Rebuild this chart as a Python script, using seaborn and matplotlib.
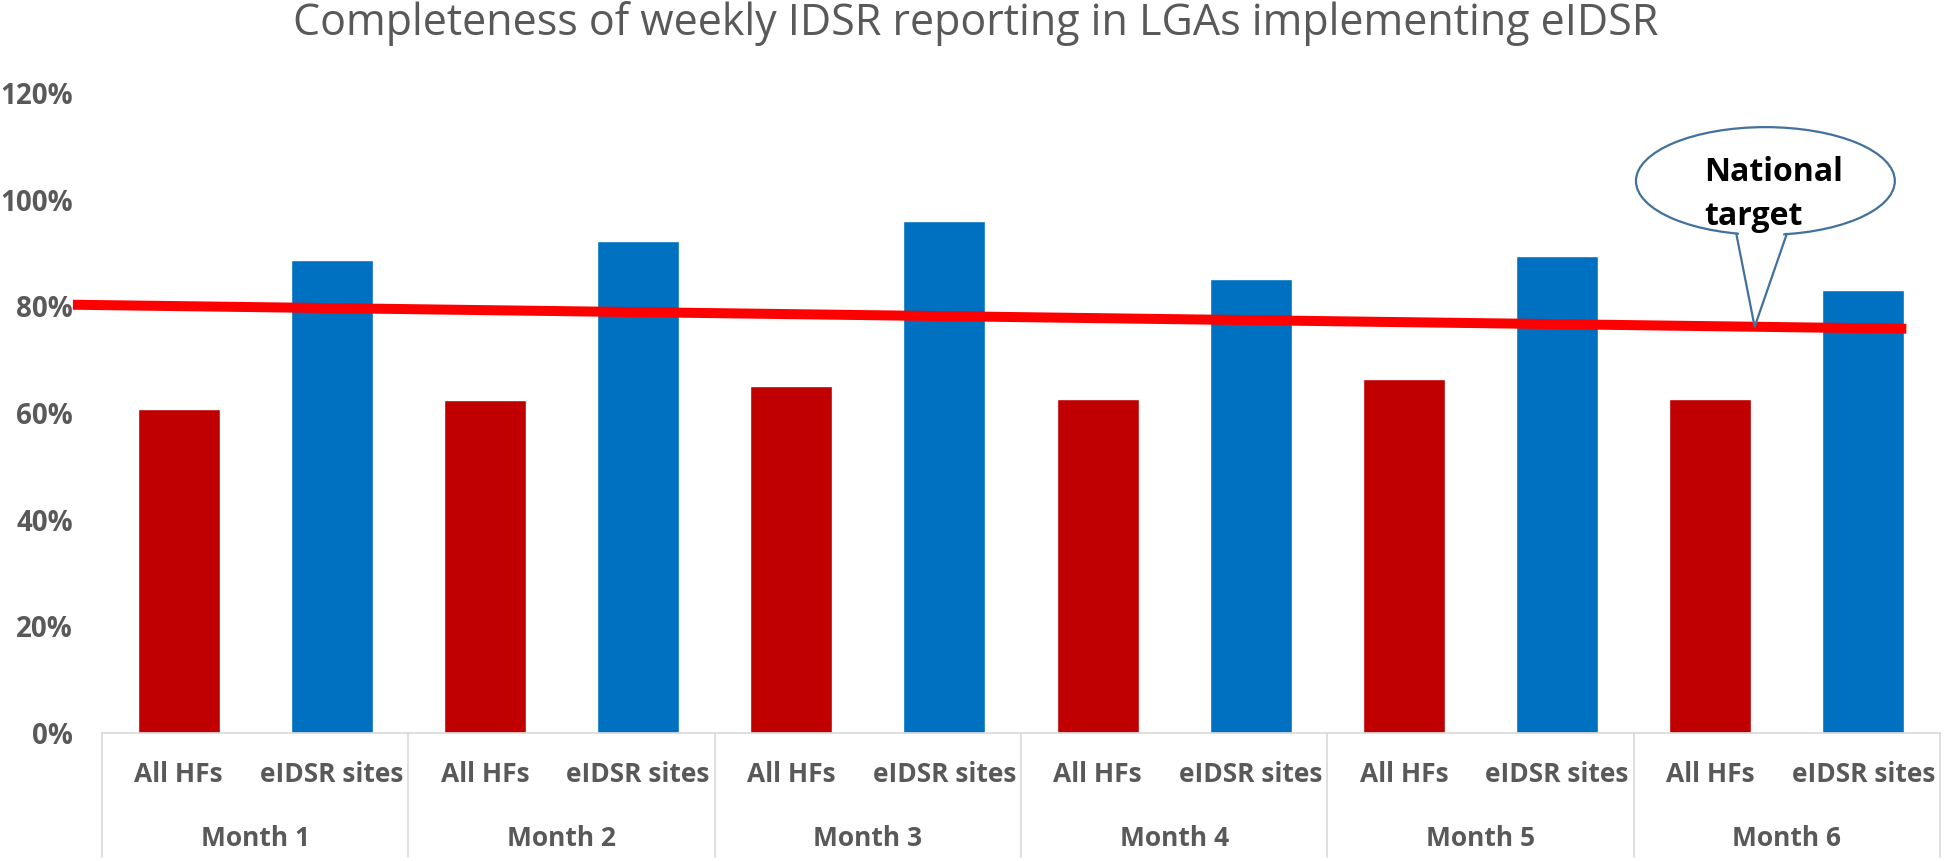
import numpy as np
import pandas as pd
import seaborn as sns
import matplotlib.pyplot as plt
from matplotlib.patches import Ellipse, Polygon

# data
months = ["Month 1", "Month 2", "Month 3", "Month 4", "Month 5", "Month 6"]
series = ["All HFs", "eIDSR sites"]
all_hfs = [60.7, 62.4, 65.0, 62.7, 66.4, 62.6]
eidsr_sites = [88.6, 92.3, 96.0, 85.1, 89.4, 83.1]
target_start = 80.3   # national target line, left end
target_end = 75.8     # right end
yticks = [0, 20, 40, 60, 80, 100, 120]

sns.set_theme(style="white")
plt.rcParams["font.family"] = ["Open Sans", "DejaVu Sans"]

rows = []
for m, a, e in zip(months, all_hfs, eidsr_sites):
    rows.append({"slot": m + "|" + series[0], "series": series[0], "value": a})
    rows.append({"slot": m + "|" + series[1], "series": series[1], "value": e})
df = pd.DataFrame(rows)

fig = plt.figure(figsize=(19.46, 8.61), dpi=100)
W, H = 1946, 861
ax = fig.add_axes([102 / W, 1 - 733 / H, (1940 - 102) / W, (733 - 93) / H])

sns.barplot(data=df, x="slot", y="value", hue="series", dodge=False,
            palette={"All HFs": "#C00000", "eIDSR sites": "#0070C0"},
            width=0.536, legend=False, ax=ax, saturation=1)

ax.set_xlim(-0.5, len(df) - 0.5)
ax.set_ylim(0, 120)
ax.set_yticks(yticks)
ax.set_yticklabels([f"{t}%" for t in yticks], color="#595959",
                   fontsize=20, fontweight="bold")
ax.tick_params(axis="y", length=0, pad=21)
ax.tick_params(axis="x", length=0)
ax.set_xticks([])
ax.set_xlabel("")
ax.set_ylabel("")
for s in ["top", "right", "left"]:
    ax.spines[s].set_visible(False)
ax.spines["bottom"].set_color("#D9D9D9")
ax.spines["bottom"].set_linewidth(1.2)

# two-level category axis
trans = ax.get_xaxis_transform()
for i, s in enumerate(df["series"]):
    ax.text(i, -42 / 640, s, transform=trans, ha="center", va="center",
            fontsize=19, fontweight="bold", color="#595959")
for j, m in enumerate(months):
    ax.text(2 * j + 0.5, -105 / 640, m, transform=trans, ha="center",
            va="center", fontsize=19, fontweight="bold", color="#595959")
for j in range(len(months) + 1):
    ax.plot([2 * j - 0.5, 2 * j - 0.5], [0, -124 / 640], transform=trans,
            color="#D9D9D9", lw=1.2, clip_on=False)

# national target line
x0, x1 = -0.69, 11.28
ax.plot([x0, x1], [target_start, target_end], color="#FF0000", lw=7.2,
        solid_capstyle="butt", clip_on=False, zorder=5)

# callout
def target_at(x):
    return target_start + (target_end - target_start) * (x - x0) / (x1 - x0)

tip_x = 10.29
tip_y = target_at(tip_x)
edge = "#41719C"
ell = Ellipse((10.36, 103.5), 1.69, 20.2, facecolor="white", edgecolor=edge,
              lw=1.6, zorder=6, clip_on=False)
ax.add_patch(ell)
bl, br, by = 10.17, 10.50, 93.6
ax.add_patch(Polygon([[bl + 0.01, by + 1.2], [br - 0.01, by + 1.2], [tip_x, tip_y]],
                     closed=True, facecolor="white", edgecolor="none",
                     zorder=7, clip_on=False))
ax.plot([bl, tip_x, br], [by, tip_y, by], color=edge, lw=1.6, zorder=8,
        clip_on=False)
ax.text(9.96, 100.9, "National\ntarget", ha="left", va="center",
        fontsize=23, fontweight="bold", color="black", linespacing=1.45,
        zorder=9)

fig.text(976 / W, 1 - 24 / H,
         "Completeness of weekly IDSR reporting in LGAs implementing eIDSR",
         ha="center", va="center", fontsize=31, color="#595959")

fig.savefig("out.png", dpi=100, facecolor="white")
